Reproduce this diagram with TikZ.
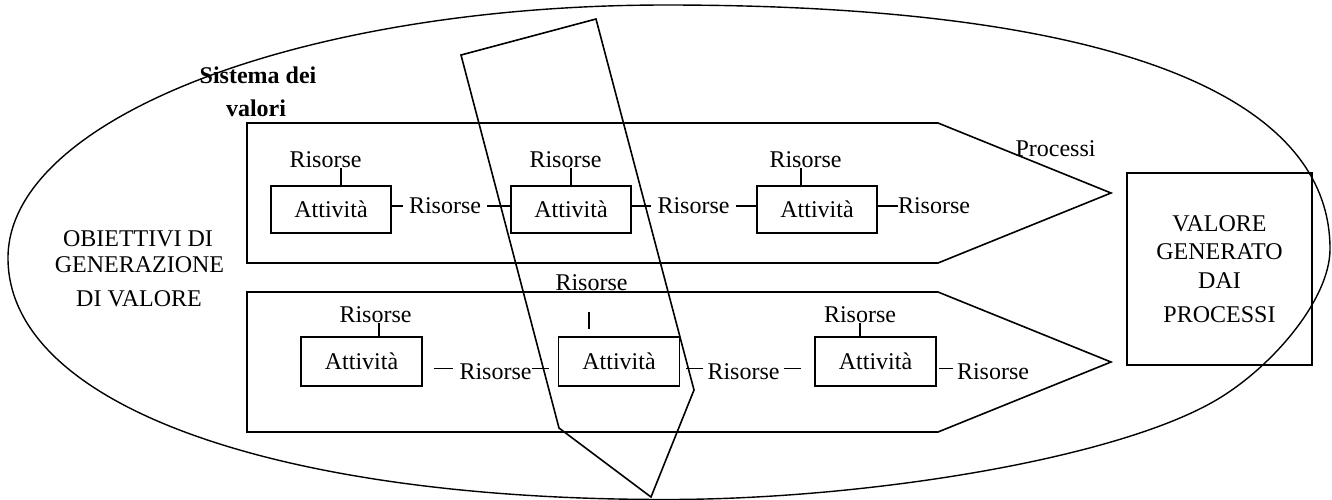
\documentclass[tikz,border=0pt]{standalone}
\usepackage{fontspec}
\setmainfont{Liberation Serif}
\usetikzlibrary{calc}
\begin{document}
\begin{tikzpicture}[x=1pt,y=-1pt,
  every node/.style={font=\fontsize{24}{28.5}\selectfont},
  ln/.style={line width=1.6pt},
  act/.style={draw, line width=1.6pt, minimum width=120pt, minimum height=47pt, inner sep=0pt},
  actb/.style={act, minimum width=121pt, minimum height=49pt},
  ris/.style={inner xsep=6pt, inner ysep=0pt},
  lbl/.style={inner sep=0pt}
]
\fill[white] (0,0) rectangle (1332,499);
\useasboundingbox (0,0) rectangle (1332,499);

% outer ellipse-like shape
\draw[line width=1.4pt] (8,258) .. controls (8,118) and (303,5) .. (666,5)
  .. controls (1098,5) and (1330,90) .. (1330,249)
  .. controls (1330,299) and (1273,366) .. (1218,399)
  .. controls (1118,459) and (866,499.5) .. (666,499.5)
  .. controls (271,499.5) and (8,404) .. cycle;

% process arrows
\draw[ln] (247,123) -- (938,123) -- (1111,193) -- (938,263) -- (247,263) -- cycle;
\draw[ln] (247,292) -- (938,292) -- (1111,362) -- (938,432) -- (247,432) -- cycle;

% skewed polygon (sistema dei valori)
\draw[ln] (461,55) -- (596,19) -- (694,390) -- (651,497) -- (559,428) -- cycle;

% labels
\node[lbl, font=\fontsize{24}{28}\selectfont\bfseries] (sv1) at (258,75) {Sistema dei};
\node[lbl, font=\fontsize{24}{28}\selectfont\bfseries] (sv2) at (256,108) {valori};
\node[lbl] (ob1) at (138,239) {OBIETTIVI DI};
\node[lbl] (ob2) at (139.5,265) {GENERAZIONE};
\node[lbl] (ob3) at (139,299) {DI VALORE};
\node[lbl] (proc) at (1055.5,149) {Processi};
\node[draw, ln, minimum width=185pt, minimum height=192pt, align=center, inner sep=0pt]
  (vb) at (1219.5,269) {VALORE\\GENERATO\\DAI\\[5.5pt]PROCESSI};

% top row
\node[act] (a1) at (331,209.5) {Attività};
\node[act] (a2) at (571,209.5) {Attività};
\node[act] (a3) at (817,209.5) {Attività};
\node[ris] (t1) at (325.5,160) {Risorse};
\node[ris] (t2) at (565.5,160) {Risorse};
\node[ris] (t3) at (805.5,160) {Risorse};
\node[ris] (m1) at (445,206) {Risorse};
\node[ris] (m2) at (693.5,206) {Risorse};
\node[ris] (m3) at (934,206) {Risorse};

\draw[ln] ([xshift=10pt]a1.north) -- ([xshift=10pt]a1.north |- t1.south);
\draw[ln] (a2.north) -- (a2.north |- t2.south);
\draw[ln] ([xshift=-16pt]a3.north) -- ([xshift=-16pt]a3.north |- t3.south);

\draw[ln] (a1.east |- m1.west) -- (m1.west);
\draw[ln] (m1.east) -- (a2.west |- m1.east);
\draw[ln] (a2.east |- m2.west) -- (m2.west);
\draw[ln] (m2.east) -- (a3.west |- m2.east);
\draw[ln] (a3.east |- m3.west) -- ([xshift=6pt]m3.west);

% bottom row
\node[actb] (b1) at (361.5,361.5) {Attività};
\node[actb] (b2) at (619,361.5) {Attività};
\node[actb] (b3) at (875.5,361.5) {Attività};
\node[ris] (u1) at (375.5,315) {Risorse};
\node[ris] (u2) at (591.5,283) {Risorse};
\node[ris] (u3) at (860,315) {Risorse};
\node[ris] (n1) at (495.5,372) {Risorse};
\node[ris] (n2) at (743.5,372) {Risorse};
\node[ris] (n3) at (993,372) {Risorse};

\draw[ln] ([xshift=17.5pt]b1.north) -- ([xshift=17.5pt]b1.north |- u1.south);
\draw[ln] ($(b2.north)+(-30,-7)$) -- ($(b2.north |- u2.south)+(-30,21)$);
\draw[ln] ([xshift=-15.5pt]b3.north) -- ([xshift=-15.5pt]b3.north |- u3.south);

\draw[ln] ($(b1.east |- n1.west)+(11,-3.5)$) -- ($(n1.west)+(0,-3.5)$);
\draw[ln] ($(n1.east)+(-6,-3.5)$) -- ($(b2.west |- n1.east)+(-9,-3.5)$);
\draw[ln] ($(b2.east |- n2.west)+(6,-3.5)$) -- ($(n2.west)+(2,-3.5)$);
\draw[ln] ($(n2.east)+(-1.5,-3.5)$) -- ($(b3.west |- n2.east)+(-13,-3.5)$);
\draw[ln] ($(b3.east |- n3.west)+(2,-3.5)$) -- ($(n3.west)+(2,-3.5)$);
\end{tikzpicture}
\end{document}
